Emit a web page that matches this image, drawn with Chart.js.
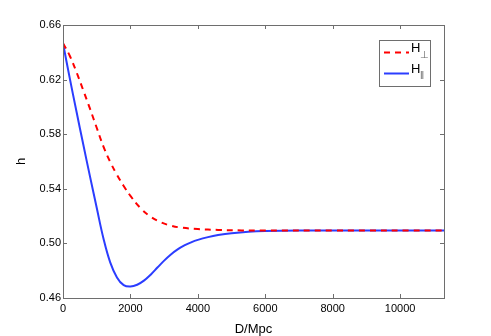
<!DOCTYPE html>
<html>
<head>
<meta charset="utf-8">
<script src="https://cdn.jsdelivr.net/npm/chart.js@4"></script>
<style>
html,body{margin:0;padding:0;background:#fff;}
#wrap{width:491px;height:336px;position:relative;}
</style>
</head>
<body>
<div id="wrap"><canvas id="c" width="491" height="336"></canvas></div>
<script>
// Data
const perpD = [0,200,400,600,800,1000,1200,1400,1600,1800,2000,2300,2600,2900,3200,3500,4000,4600,5300,6000,8000,11300];
const perpH = [0.6466,0.6375,0.6255,0.6122,0.5987,0.5847,0.5709,0.5597,0.5503,0.5421,0.5348,0.5258,0.5196,0.5155,0.5130,0.5116,0.5105,0.5099,0.5095,0.5094,0.5094,0.5094];
const paraD = [0,200,400,600,800,1000,1200,1400,1600,1800,2000,2200,2400,2600,2800,3000,3200,3400,3600,3800,4000,4300,4600,5000,5500,6000,7000,11300];
const paraH = [0.6466,0.6211,0.5966,0.5726,0.5491,0.5261,0.5036,0.4861,0.4751,0.4694,0.4684,0.4697,0.4727,0.4771,0.4823,0.4874,0.4919,0.4956,0.4985,0.5008,0.5026,0.5046,0.5061,0.5075,0.5086,0.5091,0.5094,0.5094];
const xTicks = [0,2000,4000,6000,8000,10000];
const yTicks = [0.46,0.50,0.54,0.58,0.62,0.66];
const seriesNames = ['H', 'H'];
const seriesSubs = ['\u22A5', '\u2016'];
const xTitle = 'D/Mpc';
const yTitle = 'h';

const FONT = '"Liberation Sans", Arial, Helvetica, sans-serif';
const AXIS = '#6e6e6e';
const RED = '#ff0000';
const BLUE = '#2b3dff';

const framePlugin = {
  id: 'frame',
  afterDraw(chart) {
    const {ctx, chartArea: a, scales} = chart;
    ctx.save();
    ctx.strokeStyle = AXIS;
    ctx.lineWidth = 1;
    ctx.strokeRect(Math.round(a.left) + 0.5, Math.round(a.top) + 0.5, Math.round(a.right - a.left), Math.round(a.bottom - a.top));
    // inward ticks
    ctx.beginPath();
    xTicks.forEach(v => {
      const x = Math.round(scales.x.getPixelForValue(v)) + 0.5;
      ctx.moveTo(x, a.bottom); ctx.lineTo(x, a.bottom - 4);
      ctx.moveTo(x, a.top); ctx.lineTo(x, a.top + 4);
    });
    yTicks.forEach(v => {
      const y = Math.round(scales.y.getPixelForValue(v)) + 0.5;
      ctx.moveTo(a.left, y); ctx.lineTo(a.left + 4, y);
      ctx.moveTo(a.right, y); ctx.lineTo(a.right - 4, y);
    });
    ctx.stroke();
    // axis titles
    ctx.fillStyle = '#000';
    ctx.font = '13px ' + FONT;
    ctx.textAlign = 'center';
    ctx.textBaseline = 'middle';
    ctx.fillText(xTitle, (a.left + a.right) / 2, 329);
    ctx.save();
    ctx.translate(21, (a.top + a.bottom) / 2);
    ctx.rotate(-Math.PI / 2);
    ctx.fillText(yTitle, 0, 0);
    ctx.restore();
    // legend
    const lx = 379.5, ly = 40.5, lw = 51, lh = 46;
    ctx.fillStyle = '#fff';
    ctx.fillRect(lx, ly, lw, lh);
    ctx.strokeStyle = AXIS;
    ctx.strokeRect(lx, ly, lw, lh);
    const ds = chart.data.datasets;
    const rows = [52, 73];
    ds.forEach((d, i) => {
      ctx.beginPath();
      ctx.strokeStyle = d.borderColor;
      ctx.lineWidth = 2;
      ctx.setLineDash(d.borderDash || []);
      ctx.moveTo(384, rows[i] + 0.5);
      ctx.lineTo(409, rows[i] + 0.5);
      ctx.stroke();
      ctx.setLineDash([]);
      ctx.fillStyle = '#000';
      ctx.textAlign = 'left';
      ctx.textBaseline = 'middle';
      ctx.font = '13px ' + FONT;
      ctx.fillText(seriesNames[i], 411, rows[i] - 4);
      ctx.fillStyle = '#666';
      ctx.font = '10px ' + FONT;
      ctx.fillText(seriesSubs[i], 420, rows[i] + 3);
    });
    ctx.restore();
  }
};

new Chart(document.getElementById('c'), {
  type: 'line',
  data: {
    datasets: [
      {
        label: 'H\u22A5',
        data: perpD.map((d, i) => ({x: d, y: perpH[i]})),
        borderColor: RED,
        borderWidth: 2,
        borderDash: [6, 5],
        pointRadius: 0,
        tension: 0.4,
        fill: false
      },
      {
        label: 'H\u2016',
        data: paraD.map((d, i) => ({x: d, y: paraH[i]})),
        borderColor: BLUE,
        borderWidth: 2,
        pointRadius: 0,
        tension: 0.4,
        fill: false
      }
    ]
  },
  options: {
    responsive: false,
    animation: false,
    layout: {padding: {top: 25, right: 47, left: 0, bottom: 0}},
    plugins: {legend: {display: false}, tooltip: {enabled: false}},
    scales: {
      x: {
        type: 'linear',
        min: 0, max: 11300,
        afterBuildTicks(s) { s.ticks = xTicks.map(v => ({value: v})); },
        afterFit(s) { s.height = 38; },
        grid: {display: false, drawTicks: false},
        border: {display: false},
        ticks: {color: '#000', font: {family: FONT, size: 11}, padding: 4, maxRotation: 0,
                callback: v => String(v)}
      },
      y: {
        type: 'linear',
        min: 0.46, max: 0.66,
        afterBuildTicks(s) { s.ticks = yTicks.map(v => ({value: v})); },
        afterFit(s) { s.width = 63; },
        grid: {display: false, drawTicks: false},
        border: {display: false},
        ticks: {color: '#000', font: {family: FONT, size: 11}, padding: 2,
                callback: v => Number(v).toFixed(2)}
      }
    }
  },
  plugins: [framePlugin]
});
</script>
</body>
</html>
